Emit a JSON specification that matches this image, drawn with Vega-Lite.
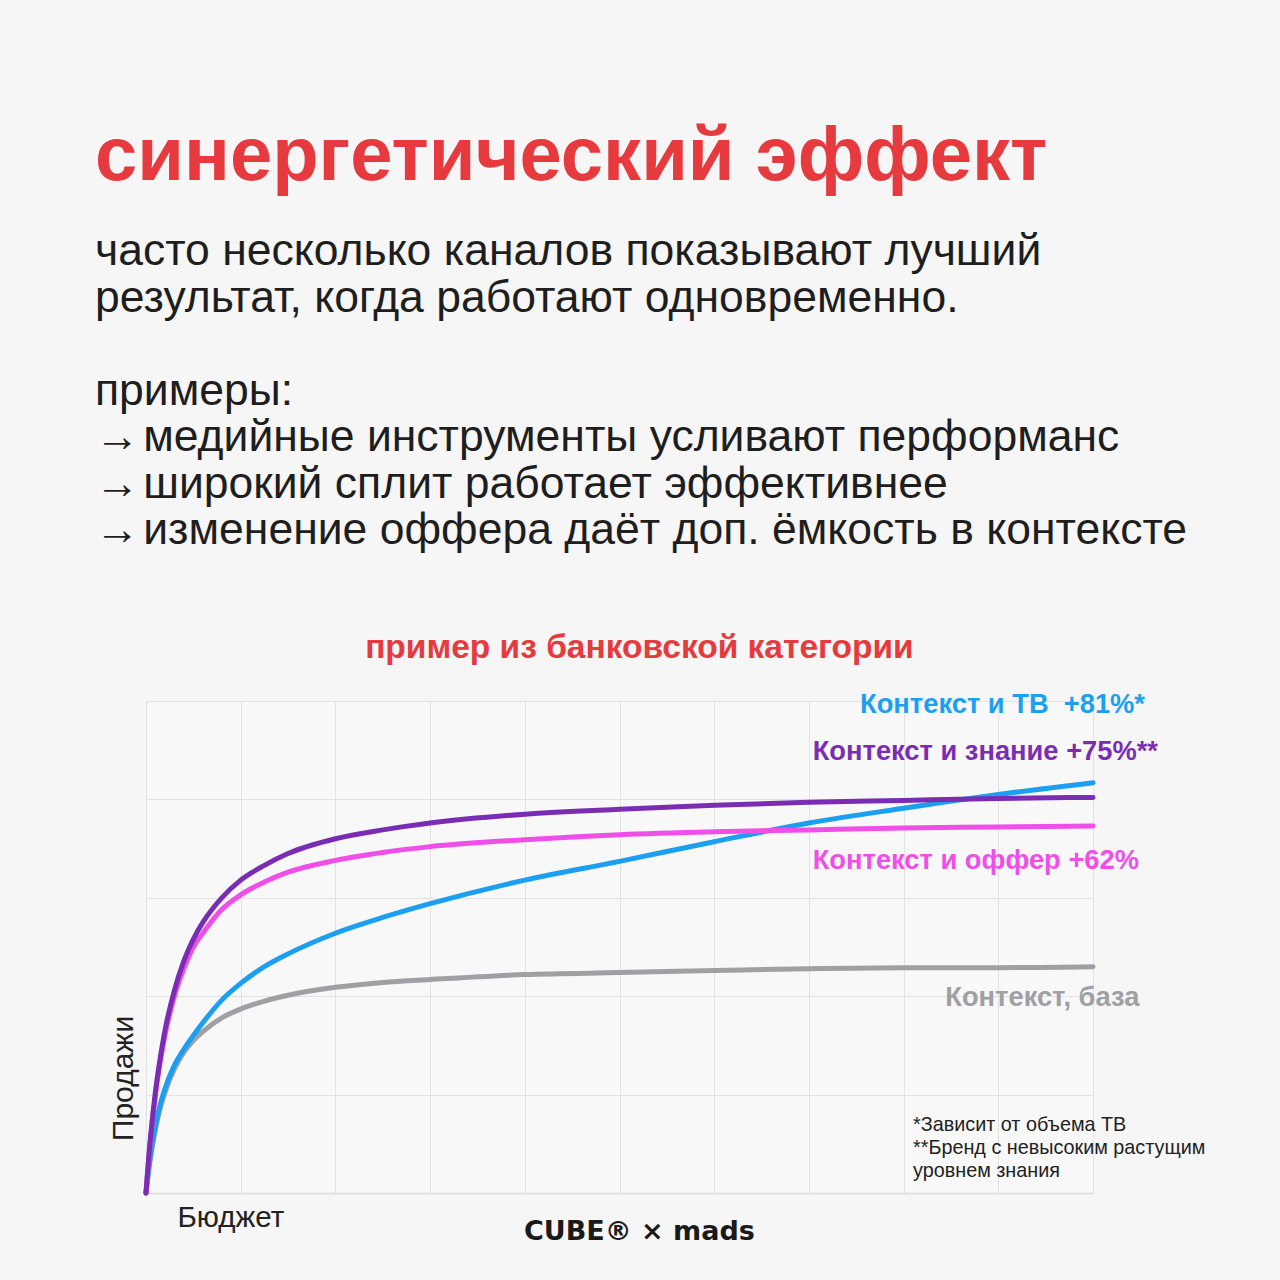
{
  "$schema": "https://vega.github.io/schema/vega-lite/v6.json",
  "width": 947,
  "height": 492,
  "autosize": {"type": "none"},
  "padding": {"left": 146, "top": 701, "right": 187, "bottom": 87},
  "background": "#f6f6f6",
  "config": {
    "view": {"stroke": "#e2e2e2", "fill": "#f8f8f8"},
    "font": "Liberation Sans"
  },
  "title": {
    "text": "синергетический эффект",
    "subtitle": [
      "часто несколько каналов показывают лучший",
      "результат, когда работают одновременно.",
      "\u200b",
      "примеры:",
      "→\u200aмедийные инструменты усливают перформанс",
      "→\u200aширокий сплит работает эффективнее",
      "→\u200aизменение оффера даёт доп. ёмкость в контексте"
    ],
    "anchor": "start",
    "frame": "group",
    "dx": -51,
    "offset": 77,
    "font": "Liberation Sans",
    "fontSize": 76,
    "fontWeight": "bold",
    "color": "#e63a3f",
    "subtitleFont": "Liberation Sans",
    "subtitleFontSize": 44.5,
    "subtitleColor": "#1e1e1e",
    "subtitleLineHeight": 46.5,
    "subtitlePadding": 34
  },
  "datasets": {
    "curves": [
      {"series": "base", "x": 0, "y": 0},
      {"series": "base", "x": 0.02, "y": 0.17},
      {"series": "base", "x": 0.05, "y": 0.38},
      {"series": "base", "x": 0.1, "y": 0.65},
      {"series": "base", "x": 0.15, "y": 0.86},
      {"series": "base", "x": 0.2, "y": 1.02},
      {"series": "base", "x": 0.3, "y": 1.26},
      {"series": "base", "x": 0.4, "y": 1.43},
      {"series": "base", "x": 0.5, "y": 1.55},
      {"series": "base", "x": 0.6, "y": 1.64},
      {"series": "base", "x": 0.8, "y": 1.78},
      {"series": "base", "x": 1, "y": 1.87},
      {"series": "base", "x": 1.25, "y": 1.95},
      {"series": "base", "x": 1.5, "y": 2.01},
      {"series": "base", "x": 2, "y": 2.09},
      {"series": "base", "x": 2.5, "y": 2.14},
      {"series": "base", "x": 3, "y": 2.17},
      {"series": "base", "x": 4, "y": 2.22},
      {"series": "base", "x": 5, "y": 2.24},
      {"series": "base", "x": 6, "y": 2.26},
      {"series": "base", "x": 7, "y": 2.28},
      {"series": "base", "x": 8, "y": 2.29},
      {"series": "base", "x": 9, "y": 2.29},
      {"series": "base", "x": 10, "y": 2.3},
      {"series": "tv", "x": 0, "y": 0},
      {"series": "tv", "x": 0.02, "y": 0.17},
      {"series": "tv", "x": 0.05, "y": 0.4},
      {"series": "tv", "x": 0.1, "y": 0.68},
      {"series": "tv", "x": 0.15, "y": 0.9},
      {"series": "tv", "x": 0.2, "y": 1.06},
      {"series": "tv", "x": 0.3, "y": 1.3},
      {"series": "tv", "x": 0.4, "y": 1.46},
      {"series": "tv", "x": 0.5, "y": 1.6},
      {"series": "tv", "x": 0.6, "y": 1.73},
      {"series": "tv", "x": 0.8, "y": 1.96},
      {"series": "tv", "x": 1, "y": 2.13},
      {"series": "tv", "x": 1.25, "y": 2.3},
      {"series": "tv", "x": 1.5, "y": 2.43},
      {"series": "tv", "x": 2, "y": 2.64},
      {"series": "tv", "x": 2.5, "y": 2.8},
      {"series": "tv", "x": 3, "y": 2.94},
      {"series": "tv", "x": 4, "y": 3.18},
      {"series": "tv", "x": 5, "y": 3.37},
      {"series": "tv", "x": 6, "y": 3.57},
      {"series": "tv", "x": 7, "y": 3.76},
      {"series": "tv", "x": 8, "y": 3.91},
      {"series": "tv", "x": 9, "y": 4.05},
      {"series": "tv", "x": 10, "y": 4.17},
      {"series": "offer", "x": 0, "y": 0},
      {"series": "offer", "x": 0.02, "y": 0.25},
      {"series": "offer", "x": 0.05, "y": 0.57},
      {"series": "offer", "x": 0.1, "y": 1.0},
      {"series": "offer", "x": 0.15, "y": 1.33},
      {"series": "offer", "x": 0.2, "y": 1.6},
      {"series": "offer", "x": 0.3, "y": 2.0},
      {"series": "offer", "x": 0.4, "y": 2.28},
      {"series": "offer", "x": 0.5, "y": 2.5},
      {"series": "offer", "x": 0.6, "y": 2.64},
      {"series": "offer", "x": 0.8, "y": 2.88},
      {"series": "offer", "x": 1, "y": 3.03},
      {"series": "offer", "x": 1.25, "y": 3.16},
      {"series": "offer", "x": 1.5, "y": 3.26},
      {"series": "offer", "x": 2, "y": 3.38},
      {"series": "offer", "x": 2.5, "y": 3.46},
      {"series": "offer", "x": 3, "y": 3.52},
      {"series": "offer", "x": 4, "y": 3.59},
      {"series": "offer", "x": 5, "y": 3.64},
      {"series": "offer", "x": 6, "y": 3.67},
      {"series": "offer", "x": 7, "y": 3.69},
      {"series": "offer", "x": 8, "y": 3.71},
      {"series": "offer", "x": 9, "y": 3.72},
      {"series": "offer", "x": 10, "y": 3.73},
      {"series": "awareness", "x": 0, "y": 0},
      {"series": "awareness", "x": 0.02, "y": 0.26},
      {"series": "awareness", "x": 0.05, "y": 0.59},
      {"series": "awareness", "x": 0.1, "y": 1.03},
      {"series": "awareness", "x": 0.15, "y": 1.37},
      {"series": "awareness", "x": 0.2, "y": 1.65},
      {"series": "awareness", "x": 0.3, "y": 2.06},
      {"series": "awareness", "x": 0.4, "y": 2.36},
      {"series": "awareness", "x": 0.5, "y": 2.58},
      {"series": "awareness", "x": 0.6, "y": 2.75},
      {"series": "awareness", "x": 0.8, "y": 3.0},
      {"series": "awareness", "x": 1, "y": 3.18},
      {"series": "awareness", "x": 1.25, "y": 3.33},
      {"series": "awareness", "x": 1.5, "y": 3.45},
      {"series": "awareness", "x": 2, "y": 3.6},
      {"series": "awareness", "x": 2.5, "y": 3.69},
      {"series": "awareness", "x": 3, "y": 3.76},
      {"series": "awareness", "x": 4, "y": 3.85},
      {"series": "awareness", "x": 5, "y": 3.9},
      {"series": "awareness", "x": 6, "y": 3.94},
      {"series": "awareness", "x": 7, "y": 3.97},
      {"series": "awareness", "x": 8, "y": 3.99},
      {"series": "awareness", "x": 9, "y": 4.01},
      {"series": "awareness", "x": 10, "y": 4.02}
    ],
    "labels": [
      {"series": "tv", "label": "Контекст и ТВ \u00a0+81%*", "x": 7.54, "y": 4.96},
      {"series": "awareness", "label": "Контекст и знание +75%**", "x": 7.04, "y": 4.48},
      {"series": "offer", "label": "Контекст и оффер +62%", "x": 7.04, "y": 3.37},
      {"series": "base", "label": "Контекст, база", "x": 8.44, "y": 1.98}
    ]
  },
  "layer": [
    {
      "data": {"name": "curves"},
      "mark": {"type": "line", "strokeWidth": 5, "strokeCap": "round", "interpolate": "monotone"},
      "encoding": {
        "x": {
          "field": "x", "type": "quantitative",
          "scale": {"domain": [0, 10], "nice": false, "zero": false},
          "axis": {
            "values": [0, 1, 2, 3, 4, 5, 6, 7, 8, 9, 10],
            "labels": false, "ticks": false,
            "grid": true, "gridColor": "#e2e2e2", "gridWidth": 1,
            "domainColor": "#dcdcdc", "domainWidth": 1.5,
            "title": "Бюджет",
            "titleFont": "Liberation Sans", "titleFontSize": 29.5, "titleFontWeight": "normal",
            "titleColor": "#222222",
            "titleAnchor": "start", "titleAlign": "left", "titleBaseline": "alphabetic",
            "titleX": 31, "titleY": 33
          }
        },
        "y": {
          "field": "y", "type": "quantitative",
          "scale": {"domain": [0, 5], "nice": false},
          "axis": {
            "values": [0, 1, 2, 3, 4, 5],
            "labels": false, "ticks": false,
            "grid": true, "gridColor": "#e2e2e2", "gridWidth": 1,
            "domainColor": "#e2e2e2",
            "title": "Продажи",
            "titleFont": "Liberation Sans", "titleFontSize": 30, "titleFontWeight": "normal",
            "titleColor": "#222222",
            "titleAngle": 270, "titleAlign": "center", "titleBaseline": "alphabetic",
            "titleX": -14, "titleY": 377
          }
        },
        "color": {
          "field": "series", "type": "nominal",
          "scale": {
            "domain": ["base", "tv", "offer", "awareness"],
            "range": ["#a09fa4", "#1b9ff0", "#ef4ee9", "#7a2db3"]
          },
          "legend": null
        },
        "order": {"field": "x", "type": "quantitative"}
      }
    },
    {
      "data": {"name": "labels"},
      "mark": {"type": "text", "align": "left", "baseline": "middle", "font": "Liberation Sans", "fontSize": 27.3, "fontWeight": "bold"},
      "encoding": {
        "x": {"field": "x", "type": "quantitative"},
        "y": {"field": "y", "type": "quantitative"},
        "text": {"field": "label"},
        "color": {"field": "series", "type": "nominal", "legend": null}
      }
    },
    {
      "data": {"values": [{"note": "*Зависит от объема ТВ\n**Бренд с невысоким растущим\nуровнем знания", "x": 8.1, "y": 0.63}]},
      "mark": {"type": "text", "align": "left", "baseline": "alphabetic", "font": "Liberation Sans", "fontSize": 19.8, "lineHeight": 23, "lineBreak": "\n", "color": "#222222"},
      "encoding": {
        "x": {"field": "x", "type": "quantitative"},
        "y": {"field": "y", "type": "quantitative"},
        "text": {"field": "note"}
      }
    },
    {
      "data": {"values": [{"caption": "пример из банковской категории", "x": 5.21, "y": 5.54}]},
      "mark": {"type": "text", "align": "center", "baseline": "middle", "font": "Liberation Sans", "fontSize": 33.5, "fontWeight": "bold", "color": "#e63a3f"},
      "encoding": {
        "x": {"field": "x", "type": "quantitative"},
        "y": {"field": "y", "type": "quantitative"},
        "text": {"field": "caption"}
      }
    },
    {
      "data": {"values": [{"brand": "CUBE® × mads", "x": 5.21, "y": -0.4}]},
      "mark": {"type": "text", "align": "center", "baseline": "middle", "font": "DejaVu Sans", "fontSize": 27, "fontWeight": "bold", "color": "#1a1a1a"},
      "encoding": {
        "x": {"field": "x", "type": "quantitative"},
        "y": {"field": "y", "type": "quantitative"},
        "text": {"field": "brand"}
      }
    }
  ]
}
